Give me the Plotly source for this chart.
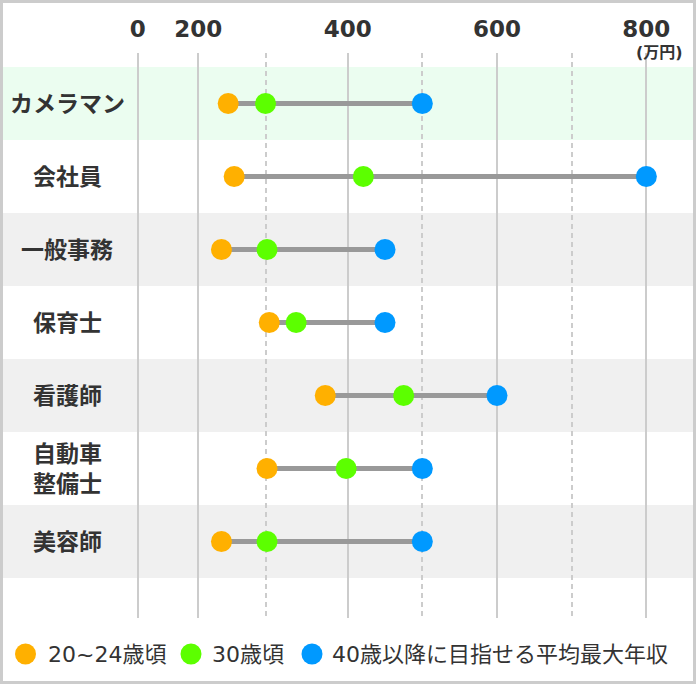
import plotly.graph_objects as go

# ---- data ----
jobs = ["カメラマン", "会社員", "一般事務", "保育士", "看護師", "自動車<br>整備士", "美容師"]
age_20_24 = [240, 248, 231, 295, 370, 292, 231]
age_30 = [290, 421, 292, 331, 475, 398, 292]
age_40_max = [500, 800, 450, 450, 600, 500, 500]

series_names = ["20~24歳頃", "30歳頃", "40歳以降に目指せる平均最大年収"]
tick_labels = ["0", "200", "400", "600", "800"]
tick_vals = [119, 200, 400, 600, 800]
dash_vals = [291, 500, 700]
unit_label = "(万円)"

# ---- style / layout ----
W, H = 696, 684
L, R, T, B = 130, 6, 53, 66
PW, PH = W - L - R, H - T - B
C_OR, C_GR, C_BL = "#FFB000", "#5CFF00", "#0099FF"
TXT = "#333333"
FONT = "DejaVu Sans, Noto Sans CJK JP"


def px2x(px):
    return (px - L) / PW


def py2y(py):
    return (H - B - py) / PH


ids = list(range(len(jobs)))

fig = go.Figure()

# connecting lines
lx, ly = [], []
for i in ids:
    lx += [min(age_20_24[i], age_30[i], age_40_max[i]), max(age_20_24[i], age_30[i], age_40_max[i]), None]
    ly += [i, i, None]
fig.add_trace(go.Scatter(x=lx, y=ly, mode="lines", line=dict(color="#999999", width=5),
                         hoverinfo="skip", showlegend=False))

for vals, col, name in [(age_20_24, C_OR, series_names[0]),
                        (age_30, C_GR, series_names[1]),
                        (age_40_max, C_BL, series_names[2])]:
    fig.add_trace(go.Scatter(x=vals, y=ids, mode="markers", name=name,
                             marker=dict(color=col, size=21, line=dict(width=0)),
                             showlegend=False))

shapes = []
# row bands
band_cols = {0: "#EBFDF0", 2: "#F0F0F0", 4: "#F0F0F0", 6: "#F0F0F0"}
for i, c in band_cols.items():
    shapes.append(dict(type="rect", xref="paper", yref="y", x0=px2x(3), x1=px2x(693),
                       y0=i - 0.5, y1=i + 0.5, fillcolor=c, line=dict(width=0), layer="below"))
# outer border
shapes.append(dict(type="rect", xref="paper", yref="paper", x0=px2x(1.5), x1=px2x(694.5),
                   y0=py2y(682.5), y1=py2y(1.5), line=dict(color="#CCCCCC", width=3),
                   fillcolor="rgba(0,0,0,0)", layer="above"))

annotations = []
for i, j in enumerate(jobs):
    annotations.append(dict(xref="paper", yref="y", x=px2x(67), y=i, text=j, showarrow=False,
                            xanchor="center", yanchor="middle", align="center",
                            font=dict(family=FONT, size=23, color=TXT, weight="bold")))
annotations.append(dict(xref="paper", yref="paper", x=px2x(659), y=py2y(52), text=unit_label,
                        showarrow=False, xanchor="center", yanchor="middle",
                        font=dict(family=FONT, size=16, color=TXT, weight="bold")))

# manual legend
leg_y = 654
for (mx, tx), col, name in zip([(25.5, 46), (191, 210), (312, 330)],
                               [C_OR, C_GR, C_BL], series_names):
    shapes.append(dict(type="circle", xref="paper", yref="paper", xsizemode="pixel", ysizemode="pixel",
                       xanchor=px2x(mx), yanchor=py2y(leg_y), x0=-10.5, x1=10.5, y0=-10.5, y1=10.5,
                       fillcolor=col, line=dict(width=0)))
    annotations.append(dict(xref="paper", yref="paper", x=px2x(tx), y=py2y(leg_y), text=name,
                            showarrow=False, xanchor="left", yanchor="middle",
                            font=dict(family=FONT, size=22, color=TXT)))

fig.update_layout(
    width=W, height=H,
    margin=dict(l=L, r=R, t=T, b=B, pad=0),
    paper_bgcolor="white", plot_bgcolor="rgba(0,0,0,0)",
    shapes=shapes, annotations=annotations, showlegend=False,
    xaxis=dict(range=[108.5, 108.5 + PW / 0.7467], side="top", tickmode="array",
               tickvals=tick_vals, ticktext=tick_labels, showgrid=True, gridcolor="#CCCCCC",
               gridwidth=2, zeroline=False, showline=False, ticks="", ticklabelstandoff=10,
               tickfont=dict(family=FONT, size=23, color=TXT, weight="bold"),
               minor=dict(tickmode="array", tickvals=dash_vals, showgrid=True, gridcolor="#CCCCCC",
                          gridwidth=2, griddash="5px,4px", ticks=""),
               fixedrange=True),
    yaxis=dict(range=[7.048, -0.692], showticklabels=False, showgrid=False, zeroline=False,
               showline=False, fixedrange=True),
)

fig.write_html("out.html", config={"displayModeBar": False},
               post_script="document.body.style.margin='0';document.body.style.padding='0';")
